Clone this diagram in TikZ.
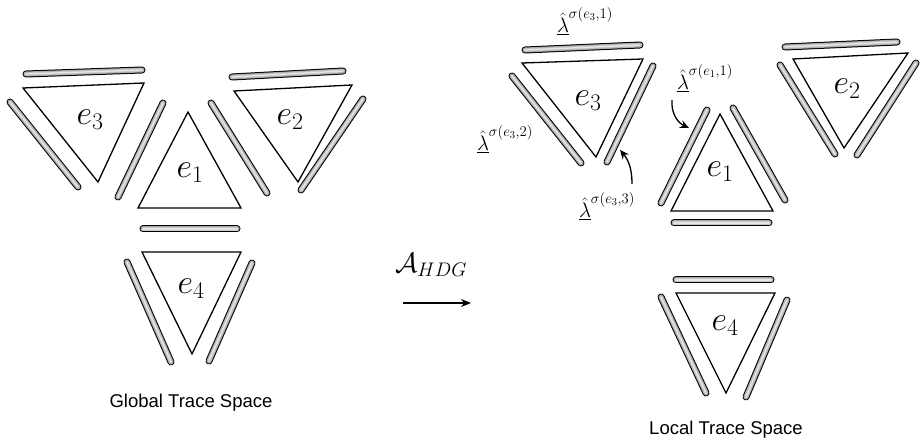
\RequirePackage{fix-cm}
\documentclass[tikz,border=0pt]{standalone}
\usepackage{fontspec}
\setsansfont{Liberation Sans}
\usetikzlibrary{arrows.meta}
\tikzset{
  tube/.style={line cap=round, draw=black, line width=7pt,
    postaction={draw=gray!70, line width=5pt},
    postaction={draw=gray!45, line width=3.2pt},
    postaction={draw=gray!20, line width=1.3pt}},
  tri/.style={draw=black, line width=1.3pt, line join=miter},
  elabel/.style={font=\fontsize{34}{36}\selectfont, inner sep=0pt},
  llabel/.style={font=\fontsize{21}{23}\selectfont, inner sep=0pt},
  caption/.style={font=\sffamily\fontsize{18.5}{20}\selectfont, inner sep=0pt},
  curarrow/.style={-{Stealth[length=9pt,width=8pt]}, line width=1.3pt},
}
\begin{document}
\begin{tikzpicture}[x=1pt,y=-1pt]
\useasboundingbox (0,0) rectangle (920,443);

% ===== Left: Global Trace Space =====
% e3
\draw[tri] (23,88) -- (144,83) -- (98,182) -- cycle;
\node[elabel] (le3) at (90,120) {$e_3$};
\draw[tube] (26,74) -- (142,70);
\draw[tube] (10,102) -- (78,187);
\draw[tube] (163,103) -- (118,197);
% e1
\draw[tri] (188,112) -- (241,208) -- (138,208) -- cycle;
\node[elabel] (le1) at (190,173) {$e_1$};
\draw[tube] (211,103) -- (267,193);
\draw[tube] (143,229) -- (237,229);
% e2
\draw[tri] (234,91) -- (352,85) -- (298,182) -- cycle;
\node[elabel] (le2) at (290,120) {$e_2$};
\draw[tube] (232,77) -- (343,71);
\draw[tube] (363,99) -- (301,190);
% e4
\draw[tri] (142,252) -- (241,252) -- (192,354) -- cycle;
\node[elabel] (le4) at (191,289) {$e_4$};
\draw[tube] (127,262) -- (171,362);
\draw[tube] (252,263) -- (209,361);
\node[caption] (gts) at (191,403) {Global Trace Space};

% ===== Arrow =====
\node[font=\fontsize{28}{30}\selectfont, inner sep=0pt] (ahdg) at (431,265) {$\mathcal{A}_{HDG}$};
\coordinate (arS) at (403,303);
\coordinate (arE) at (471,303);
\draw[-{Stealth[length=10pt,width=8pt]}, line width=1.6pt] (arS) -- (arE);

% ===== Right: Local Trace Space =====
% e3
\draw[tri] (522,63) -- (643,59) -- (596,157) -- cycle;
\node[elabel] (re3) at (588,101) {$e_3$};
\draw[tube] (525,50) -- (640,45);
\draw[tube] (512,76) -- (581,163);
\draw[tube] (653,66) -- (607,162);
% e1
\draw[tri] (720,114) -- (773,211) -- (671,211) -- cycle;
\node[elabel] (re1) at (720,172) {$e_1$};
\draw[tube] (707,110) -- (661,203);
\draw[tube] (733,108) -- (785,200);
\draw[tube] (674,223) -- (769,223);
% e2
\draw[tri] (793,59) -- (908,53) -- (844,148) -- cycle;
\node[elabel] (re2) at (847,89) {$e_2$};
\draw[tube] (785,47) -- (897,42);
\draw[tube] (780,65) -- (835,154);
\draw[tube] (916,63) -- (857,155);
% e4
\draw[tri] (676,293) -- (775,293) -- (726,393) -- cycle;
\node[elabel] (re4) at (725,326) {$e_4$};
\draw[tube] (676,280) -- (771,280);
\draw[tube] (661,297) -- (706,393);
\draw[tube] (787,300) -- (746,397);
\node[caption] (lts) at (726,430) {Local Trace Space};

% labels
\node[llabel] (l31) at (585,21) {$\underline{\hat{\lambda}}^{\sigma(e_3,1)}$};
\node[llabel] (l32) at (505,139) {$\underline{\hat{\lambda}}^{\sigma(e_3,2)}$};
\node[llabel] (l33) at (607,206) {$\underline{\hat{\lambda}}^{\sigma(e_3,3)}$};
\node[llabel] (l11) at (705,78) {$\underline{\hat{\lambda}}^{\sigma(e_1,1)}$};

\coordinate (a33s) at (632,184);
\coordinate (a33e) at (620,150);
\draw[curarrow] (a33s) to[out=90,in=-50] (a33e);
\coordinate (a11s) at (672,100);
\coordinate (a11e) at (689,128);
\draw[curarrow] (a11s) to[out=-95,in=155] (a11e);
\end{tikzpicture}
\end{document}
